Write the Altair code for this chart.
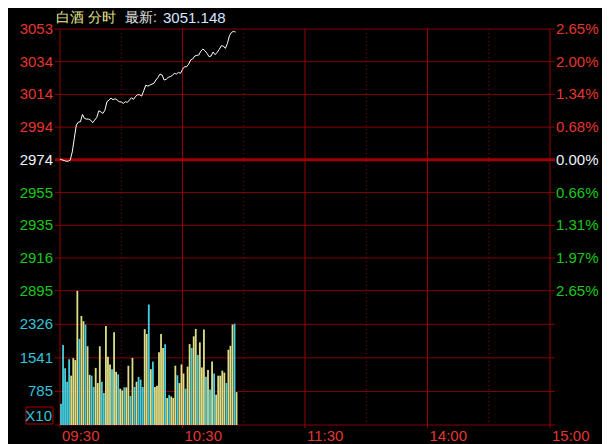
import altair as alt
import pandas as pd

# ---------------- data ----------------
price = [2974.4, 2974.0, 2973.6, 2973.2, 2973.2, 2973.8, 2978.8, 2986.9, 2995.0, 2996.8,
         2997.0, 3001.4, 2999.0, 2998.6, 2998.6, 2998.0, 2996.4, 2998.0, 2999.6, 3003.6,
         3003.0, 3002.0, 3004.0, 3009.1, 3010.1, 3011.3, 3010.3, 3010.9, 3010.1, 3009.1,
         3008.9, 3008.1, 3009.1, 3008.7, 3010.1, 3011.5, 3010.5, 3012.3, 3013.3, 3013.3,
         3012.5, 3015.7, 3019.1, 3018.5, 3019.1, 3019.7, 3020.2, 3022.2, 3023.8, 3025.8,
         3025.2, 3022.2, 3022.6, 3023.8, 3024.2, 3025.0, 3026.2, 3025.8, 3026.8, 3026.2,
         3028.6, 3030.2, 3030.2, 3031.8, 3034.3, 3034.9, 3036.7, 3037.1, 3037.3, 3039.7,
         3040.9, 3039.9, 3038.3, 3036.3, 3036.7, 3039.1, 3037.5, 3038.9, 3040.7, 3042.9,
         3042.7, 3041.3, 3044.3, 3049.0, 3051.0, 3051.6, 3051.148]

volume = [490, 1850, 1310, 1000, 1520, 1140, 1545, 1500, 3100, 1990,
          2520, 2400, 2320, 1820, 1160, 1140, 880, 1320, 970, 1820,
          1000, 740, 2290, 1575, 1400, 1290, 2145, 1230, 1170, 840,
          800, 870, 870, 1370, 670, 1550, 880, 1000, 1110, 1050,
          880, 2215, 2105, 2785, 1290, 1465, 880, 910, 1680, 2105,
          1780, 1865, 625, 690, 660, 625, 1370, 1150, 970, 1400,
          1190, 840, 1350, 1870, 1780, 2050, 2220, 1620, 1910, 1330,
          2210, 1115, 1270, 820, 1465, 1190, 700, 1140, 1140, 1255,
          1210, 970, 1740, 1830, 2320, 2340, 760]

vol_dir = list("cccccyyyyc" "yycyyccyyy" "ccyyycyycy" "ycyycycycc"
               "cyycycyyyy" "ycycyyycy" "y" "ycyycyycyy" "ycycycyyyy" "ycyyycy")

price_ticks = [3053, 3033.25, 3013.5, 2993.75, 2974, 2954.25, 2934.5, 2914.75, 2895]
price_labels = ["3053", "3034", "3014", "2994", "2974", "2955", "2935", "2916", "2895"]
pct_labels = ["2.65%", "2.00%", "1.34%", "0.68%", "0.00%", "0.66%", "1.31%", "1.97%", "2.65%"]
side = ["up", "up", "up", "up", "flat", "down", "down", "down", "down"]

vol_ticks = [2328, 1552, 776]
vol_labels = ["2326", "1541", "785"]

solid_minutes = [0, 60, 120, 180, 240]
dotted_minutes = [30, 90, 150, 210]
time_minutes = [0, 60, 120, 180, 240]
time_labels = ["09:30", "10:30", "11:30", "14:00", "15:00"]

title_name = "白酒 分时"
title_key = "最新:"
title_value = "3051.148"

# ---------------- styling ----------------
RED = "#e5362f"
GREEN = "#19c819"
WHITE = "#eef2fa"
CYAN = "#33c3d8"
GRID = "#860000"
BARY = "#dede86"
BARC = "#46cfe0"
FONT = "Liberation Sans"

W, H = 500, 396
PRICE_BOTTOM = 261.7

xs = alt.Scale(domain=[0, 240], range=[0, W], nice=False, zero=False)
ps = alt.Scale(domain=[2895, 3053], range=[PRICE_BOTTOM, 0], nice=False, zero=False)
vs = alt.Scale(domain=[0, 3104], range=[H, PRICE_BOTTOM], nice=False, zero=False)

col_map = {"up": RED, "flat": WHITE, "down": GREEN}

line_df = pd.DataFrame({"m": list(range(len(price))), "p": price})
bar_df = pd.DataFrame({"m": list(range(len(volume))), "v": volume,
                       "c": [BARY if d == "y" else BARC for d in vol_dir[:len(volume)]]})
pt_df = pd.DataFrame({"v": price_ticks, "lab": price_labels, "pct": pct_labels,
                      "col": [col_map[s] for s in side]})
vt_df = pd.DataFrame({"v": vol_ticks, "lab": vol_labels})
solid_df = pd.DataFrame({"m": solid_minutes})
dot_df = pd.DataFrame({"m": dotted_minutes})
time_df = pd.DataFrame({"m": time_minutes, "lab": time_labels})
one = pd.DataFrame({"a": [title_name], "b": [title_key], "c": [title_value], "x": ["X10"]})

pgrid = alt.Chart(pt_df[pt_df["lab"] != "2974"]).mark_rule(color=GRID, strokeWidth=1).encode(
    y=alt.Y("v:Q", scale=ps, axis=None), x=alt.value(0), x2=alt.value(W))
zline = alt.Chart(pt_df[pt_df["lab"] == "2974"]).mark_rule(color="#a00000", strokeWidth=3).encode(
    y=alt.Y("v:Q", scale=ps, axis=None), x=alt.value(0), x2=alt.value(W))
vgrid = alt.Chart(vt_df).mark_rule(color=GRID, strokeWidth=1).encode(
    y=alt.Y("v:Q", scale=vs, axis=None), x=alt.value(0), x2=alt.value(W))
bottom = alt.Chart(pd.DataFrame({"v": [0]})).mark_rule(color=GRID, strokeWidth=1).encode(
    y=alt.Y("v:Q", scale=vs, axis=None), x=alt.value(0), x2=alt.value(W))

solid = alt.Chart(solid_df).mark_rule(color="#9a0000", strokeWidth=1).encode(
    x=alt.X("m:Q", scale=xs, axis=None), y=alt.value(0), y2=alt.value(H + 3))
dotted = alt.Chart(dot_df).mark_rule(color="#9a0000", strokeWidth=1, strokeDash=[1, 3]).encode(
    x=alt.X("m:Q", scale=xs, axis=None), y=alt.value(0), y2=alt.value(H))

bars = alt.Chart(bar_df).mark_bar(size=1.8, xOffset=1).encode(
    x=alt.X("m:Q", scale=xs, axis=None),
    y=alt.Y("v:Q", scale=vs, axis=None),
    color=alt.Color("c:N", scale=None))

line = alt.Chart(line_df).mark_line(color="#ffffff", strokeWidth=1).encode(
    x=alt.X("m:Q", scale=xs, axis=None),
    y=alt.Y("p:Q", scale=ps, axis=None))

left_lab = alt.Chart(pt_df).mark_text(align="right", baseline="middle", font=FONT, fontSize=15, dx=-2).encode(
    y=alt.Y("v:Q", scale=ps, axis=None), x=alt.value(0), text="lab:N",
    color=alt.Color("col:N", scale=None))
right_lab = alt.Chart(pt_df).mark_text(align="left", baseline="middle", font=FONT, fontSize=15, dx=1).encode(
    y=alt.Y("v:Q", scale=ps, axis=None), x=alt.value(W), text="pct:N",
    color=alt.Color("col:N", scale=None))
vol_lab = alt.Chart(vt_df).mark_text(align="right", baseline="middle", font=FONT, fontSize=15, dx=-2, color=CYAN).encode(
    y=alt.Y("v:Q", scale=vs, axis=None), x=alt.value(0), text="lab:N")

time_lab = alt.Chart(time_df).mark_text(align="left", baseline="middle", font=FONT, fontSize=15, dx=2, color=RED).encode(
    x=alt.X("m:Q", scale=xs, axis=None), y=alt.value(H + 11), text="lab:N")

xbox = alt.Chart(one).mark_rect(fill="#000000", stroke="#b00000", strokeWidth=1).encode(
    x=alt.value(-29), x2=alt.value(-2), y=alt.value(378), y2=alt.value(395))
xtext = alt.Chart(one).mark_text(align="right", baseline="middle", font=FONT, fontSize=15, color=CYAN).encode(
    x=alt.value(-3), y=alt.value(387), text="x:N")

t1 = alt.Chart(one).mark_text(align="left", baseline="alphabetic", font=FONT, fontSize=14,
                               color="#e6e690").encode(x=alt.value(1), y=alt.value(-7.5), text="a:N")
t2 = alt.Chart(one).mark_text(align="left", baseline="alphabetic", font=FONT, fontSize=14,
                               color="#e2e2e2").encode(x=alt.value(70), y=alt.value(-7.5), text="b:N")
t3 = alt.Chart(one).mark_text(align="left", baseline="alphabetic", font=FONT, fontSize=15,
                               color="#d8e6ff").encode(x=alt.value(108), y=alt.value(-6.5), text="c:N")

chart = alt.layer(
    pgrid, vgrid, bottom, dotted, solid, zline, bars, line,
    left_lab, right_lab, vol_lab, time_lab, xbox, xtext, t1, t2, t3
).resolve_scale(y="independent", x="shared").properties(
    width=W, height=H,
    autosize=alt.AutoSizeParams(type="none"),
    padding={"left": 47, "top": 21, "right": 47, "bottom": 19},
    background="#000000",
).configure_view(stroke=None, fill="#000000")

chart.save("out.html", embed_options={"renderer": "svg", "actions": False})
